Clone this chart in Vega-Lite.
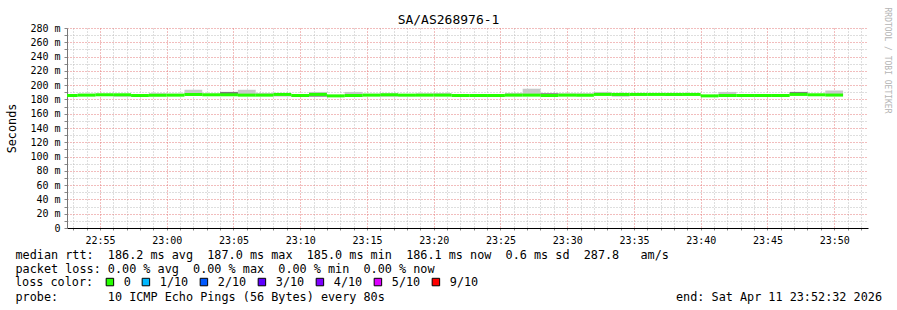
{
  "$schema": "https://vega.github.io/schema/vega-lite/v6.json",
  "width": 801,
  "height": 200,
  "autosize": {"type": "none"},
  "padding": {"left": 67, "top": 28, "right": 29, "bottom": 82},
  "background": "white",
  "title": {"text": "SA/AS268976-1", "font": "DejaVu Sans Mono", "fontSize": 13, "fontWeight": "normal", "color": "#000", "anchor": "middle", "dx": -19, "dy": 24, "offset": 4},
  "config": {"view": {"stroke": null}, "font": "DejaVu Sans Mono", "style": {"guide-title": {"lineBreak": "|"}}},
  "datasets": {
    "steps": [
      {"t": "2026-04-11T22:52:00", "t2": "2026-04-11T22:53:20", "median": 185.5, "lo": 185, "hi": 186.5, "loss": "0"},
      {"t": "2026-04-11T22:53:20", "t2": "2026-04-11T22:54:40", "median": 186, "lo": 185.5, "hi": 188, "loss": "0"},
      {"t": "2026-04-11T22:54:40", "t2": "2026-04-11T22:56:00", "median": 186.5, "lo": 185.5, "hi": 188, "loss": "0"},
      {"t": "2026-04-11T22:56:00", "t2": "2026-04-11T22:57:20", "median": 186.5, "lo": 184.5, "hi": 187, "loss": "0"},
      {"t": "2026-04-11T22:57:20", "t2": "2026-04-11T22:58:40", "median": 185.5, "lo": 185, "hi": 186.5, "loss": "0"},
      {"t": "2026-04-11T22:58:40", "t2": "2026-04-11T23:00:00", "median": 186, "lo": 185.5, "hi": 188.5, "loss": "0"},
      {"t": "2026-04-11T23:00:00", "t2": "2026-04-11T23:01:20", "median": 186, "lo": 185.5, "hi": 188, "loss": "0"},
      {"t": "2026-04-11T23:01:20", "t2": "2026-04-11T23:02:40", "median": 187, "lo": 186, "hi": 193.5, "loss": "0"},
      {"t": "2026-04-11T23:02:40", "t2": "2026-04-11T23:04:00", "median": 186.5, "lo": 185.5, "hi": 188, "loss": "0"},
      {"t": "2026-04-11T23:04:00", "t2": "2026-04-11T23:05:20", "median": 186.5, "lo": 185.5, "hi": 190.5, "loss": "0"},
      {"t": "2026-04-11T23:05:20", "t2": "2026-04-11T23:06:40", "median": 186, "lo": 185.5, "hi": 193.5, "loss": "0"},
      {"t": "2026-04-11T23:06:40", "t2": "2026-04-11T23:08:00", "median": 186, "lo": 185.5, "hi": 188, "loss": "0"},
      {"t": "2026-04-11T23:08:00", "t2": "2026-04-11T23:09:20", "median": 187, "lo": 184, "hi": 188.5, "loss": "0"},
      {"t": "2026-04-11T23:09:20", "t2": "2026-04-11T23:10:40", "median": 185.5, "lo": 184, "hi": 186.5, "loss": "0"},
      {"t": "2026-04-11T23:10:40", "t2": "2026-04-11T23:12:00", "median": 187, "lo": 184, "hi": 190.5, "loss": "0"},
      {"t": "2026-04-11T23:12:00", "t2": "2026-04-11T23:13:20", "median": 185, "lo": 184.5, "hi": 186, "loss": "0"},
      {"t": "2026-04-11T23:13:20", "t2": "2026-04-11T23:14:40", "median": 185.5, "lo": 184, "hi": 190.5, "loss": "0"},
      {"t": "2026-04-11T23:14:40", "t2": "2026-04-11T23:16:00", "median": 186, "lo": 185.5, "hi": 188, "loss": "0"},
      {"t": "2026-04-11T23:16:00", "t2": "2026-04-11T23:17:20", "median": 186.5, "lo": 184.5, "hi": 188.5, "loss": "0"},
      {"t": "2026-04-11T23:17:20", "t2": "2026-04-11T23:18:40", "median": 186, "lo": 184.5, "hi": 187.5, "loss": "0"},
      {"t": "2026-04-11T23:18:40", "t2": "2026-04-11T23:20:00", "median": 186, "lo": 185.5, "hi": 188.5, "loss": "0"},
      {"t": "2026-04-11T23:20:00", "t2": "2026-04-11T23:21:20", "median": 186, "lo": 185.5, "hi": 188, "loss": "0"},
      {"t": "2026-04-11T23:21:20", "t2": "2026-04-11T23:22:40", "median": 185.5, "lo": 185, "hi": 187.5, "loss": "0"},
      {"t": "2026-04-11T23:22:40", "t2": "2026-04-11T23:24:00", "median": 185.5, "lo": 185, "hi": 186, "loss": "0"},
      {"t": "2026-04-11T23:24:00", "t2": "2026-04-11T23:25:20", "median": 185.5, "lo": 185, "hi": 186, "loss": "0"},
      {"t": "2026-04-11T23:25:20", "t2": "2026-04-11T23:26:40", "median": 186, "lo": 184.5, "hi": 188, "loss": "0"},
      {"t": "2026-04-11T23:26:40", "t2": "2026-04-11T23:28:00", "median": 186, "lo": 185.5, "hi": 195, "loss": "0"},
      {"t": "2026-04-11T23:28:00", "t2": "2026-04-11T23:29:20", "median": 185.5, "lo": 185, "hi": 189, "loss": "0"},
      {"t": "2026-04-11T23:29:20", "t2": "2026-04-11T23:30:40", "median": 186, "lo": 185.5, "hi": 188.5, "loss": "0"},
      {"t": "2026-04-11T23:30:40", "t2": "2026-04-11T23:32:00", "median": 186, "lo": 185.5, "hi": 188.5, "loss": "0"},
      {"t": "2026-04-11T23:32:00", "t2": "2026-04-11T23:33:20", "median": 187, "lo": 186.5, "hi": 190.5, "loss": "0"},
      {"t": "2026-04-11T23:33:20", "t2": "2026-04-11T23:34:40", "median": 187, "lo": 184.5, "hi": 187.5, "loss": "0"},
      {"t": "2026-04-11T23:34:40", "t2": "2026-04-11T23:36:00", "median": 187, "lo": 185, "hi": 187.5, "loss": "0"},
      {"t": "2026-04-11T23:36:00", "t2": "2026-04-11T23:37:20", "median": 187, "lo": 186.5, "hi": 187.5, "loss": "0"},
      {"t": "2026-04-11T23:37:20", "t2": "2026-04-11T23:38:40", "median": 187, "lo": 185, "hi": 187.5, "loss": "0"},
      {"t": "2026-04-11T23:38:40", "t2": "2026-04-11T23:40:00", "median": 187, "lo": 185, "hi": 187.5, "loss": "0"},
      {"t": "2026-04-11T23:40:00", "t2": "2026-04-11T23:41:20", "median": 185, "lo": 184.5, "hi": 186, "loss": "0"},
      {"t": "2026-04-11T23:41:20", "t2": "2026-04-11T23:42:40", "median": 185.5, "lo": 185, "hi": 190.5, "loss": "0"},
      {"t": "2026-04-11T23:42:40", "t2": "2026-04-11T23:44:00", "median": 185.5, "lo": 185, "hi": 187.5, "loss": "0"},
      {"t": "2026-04-11T23:44:00", "t2": "2026-04-11T23:45:20", "median": 185.5, "lo": 185, "hi": 187.5, "loss": "0"},
      {"t": "2026-04-11T23:45:20", "t2": "2026-04-11T23:46:40", "median": 185.5, "lo": 185, "hi": 187.5, "loss": "0"},
      {"t": "2026-04-11T23:46:40", "t2": "2026-04-11T23:48:00", "median": 187, "lo": 186, "hi": 190.5, "loss": "0"},
      {"t": "2026-04-11T23:48:00", "t2": "2026-04-11T23:49:20", "median": 186.5, "lo": 186, "hi": 187.5, "loss": "0"},
      {"t": "2026-04-11T23:49:20", "t2": "2026-04-11T23:50:40", "median": 186.1, "lo": 185.5, "hi": 192.5, "loss": "0"}
    ],
    "dense": [
      {"t": "2026-04-11T22:56:00", "t2": "2026-04-11T22:57:20", "lo": 184.5, "hi": 186},
      {"t": "2026-04-11T23:04:00", "t2": "2026-04-11T23:05:20", "lo": 187.5, "hi": 190.5},
      {"t": "2026-04-11T23:06:40", "t2": "2026-04-11T23:08:00", "lo": 187, "hi": 188},
      {"t": "2026-04-11T23:10:40", "t2": "2026-04-11T23:12:00", "lo": 184, "hi": 185.5},
      {"t": "2026-04-11T23:13:20", "t2": "2026-04-11T23:14:40", "lo": 184, "hi": 185},
      {"t": "2026-04-11T23:16:00", "t2": "2026-04-11T23:17:20", "lo": 184.5, "hi": 185.5},
      {"t": "2026-04-11T23:17:20", "t2": "2026-04-11T23:18:40", "lo": 185, "hi": 186},
      {"t": "2026-04-11T23:20:00", "t2": "2026-04-11T23:21:20", "lo": 187, "hi": 188},
      {"t": "2026-04-11T23:25:20", "t2": "2026-04-11T23:26:40", "lo": 187, "hi": 188},
      {"t": "2026-04-11T23:28:00", "t2": "2026-04-11T23:29:20", "lo": 187, "hi": 188.5},
      {"t": "2026-04-11T23:33:20", "t2": "2026-04-11T23:34:40", "lo": 184.5, "hi": 185.5},
      {"t": "2026-04-11T23:37:20", "t2": "2026-04-11T23:38:40", "lo": 185, "hi": 186},
      {"t": "2026-04-11T23:46:40", "t2": "2026-04-11T23:48:00", "lo": 188, "hi": 190.5}
    ]
  },
  "layer": [
    {
      "data": {"name": "steps"},
      "mark": {"type": "rect", "color": "#c8c8c8", "clip": true},
      "encoding": {
        "x": {
          "field": "t", "type": "temporal",
          "scale": {"domain": [{"year": 2026, "month": 4, "date": 11, "hours": 22, "minutes": 52, "seconds": 32}, {"year": 2026, "month": 4, "date": 11, "hours": 23, "minutes": 52, "seconds": 32}], "nice": false},
          "axis": {
            "values": [
              {"year": 2026, "month": 4, "date": 11, "hours": 22, "minutes": 53}, {"year": 2026, "month": 4, "date": 11, "hours": 22, "minutes": 54}, {"year": 2026, "month": 4, "date": 11, "hours": 22, "minutes": 55}, {"year": 2026, "month": 4, "date": 11, "hours": 22, "minutes": 56}, {"year": 2026, "month": 4, "date": 11, "hours": 22, "minutes": 57}, {"year": 2026, "month": 4, "date": 11, "hours": 22, "minutes": 58}, {"year": 2026, "month": 4, "date": 11, "hours": 22, "minutes": 59},
              {"year": 2026, "month": 4, "date": 11, "hours": 23, "minutes": 0}, {"year": 2026, "month": 4, "date": 11, "hours": 23, "minutes": 1}, {"year": 2026, "month": 4, "date": 11, "hours": 23, "minutes": 2}, {"year": 2026, "month": 4, "date": 11, "hours": 23, "minutes": 3}, {"year": 2026, "month": 4, "date": 11, "hours": 23, "minutes": 4}, {"year": 2026, "month": 4, "date": 11, "hours": 23, "minutes": 5}, {"year": 2026, "month": 4, "date": 11, "hours": 23, "minutes": 6}, {"year": 2026, "month": 4, "date": 11, "hours": 23, "minutes": 7}, {"year": 2026, "month": 4, "date": 11, "hours": 23, "minutes": 8}, {"year": 2026, "month": 4, "date": 11, "hours": 23, "minutes": 9},
              {"year": 2026, "month": 4, "date": 11, "hours": 23, "minutes": 10}, {"year": 2026, "month": 4, "date": 11, "hours": 23, "minutes": 11}, {"year": 2026, "month": 4, "date": 11, "hours": 23, "minutes": 12}, {"year": 2026, "month": 4, "date": 11, "hours": 23, "minutes": 13}, {"year": 2026, "month": 4, "date": 11, "hours": 23, "minutes": 14}, {"year": 2026, "month": 4, "date": 11, "hours": 23, "minutes": 15}, {"year": 2026, "month": 4, "date": 11, "hours": 23, "minutes": 16}, {"year": 2026, "month": 4, "date": 11, "hours": 23, "minutes": 17}, {"year": 2026, "month": 4, "date": 11, "hours": 23, "minutes": 18}, {"year": 2026, "month": 4, "date": 11, "hours": 23, "minutes": 19},
              {"year": 2026, "month": 4, "date": 11, "hours": 23, "minutes": 20}, {"year": 2026, "month": 4, "date": 11, "hours": 23, "minutes": 21}, {"year": 2026, "month": 4, "date": 11, "hours": 23, "minutes": 22}, {"year": 2026, "month": 4, "date": 11, "hours": 23, "minutes": 23}, {"year": 2026, "month": 4, "date": 11, "hours": 23, "minutes": 24}, {"year": 2026, "month": 4, "date": 11, "hours": 23, "minutes": 25}, {"year": 2026, "month": 4, "date": 11, "hours": 23, "minutes": 26}, {"year": 2026, "month": 4, "date": 11, "hours": 23, "minutes": 27}, {"year": 2026, "month": 4, "date": 11, "hours": 23, "minutes": 28}, {"year": 2026, "month": 4, "date": 11, "hours": 23, "minutes": 29},
              {"year": 2026, "month": 4, "date": 11, "hours": 23, "minutes": 30}, {"year": 2026, "month": 4, "date": 11, "hours": 23, "minutes": 31}, {"year": 2026, "month": 4, "date": 11, "hours": 23, "minutes": 32}, {"year": 2026, "month": 4, "date": 11, "hours": 23, "minutes": 33}, {"year": 2026, "month": 4, "date": 11, "hours": 23, "minutes": 34}, {"year": 2026, "month": 4, "date": 11, "hours": 23, "minutes": 35}, {"year": 2026, "month": 4, "date": 11, "hours": 23, "minutes": 36}, {"year": 2026, "month": 4, "date": 11, "hours": 23, "minutes": 37}, {"year": 2026, "month": 4, "date": 11, "hours": 23, "minutes": 38}, {"year": 2026, "month": 4, "date": 11, "hours": 23, "minutes": 39},
              {"year": 2026, "month": 4, "date": 11, "hours": 23, "minutes": 40}, {"year": 2026, "month": 4, "date": 11, "hours": 23, "minutes": 41}, {"year": 2026, "month": 4, "date": 11, "hours": 23, "minutes": 42}, {"year": 2026, "month": 4, "date": 11, "hours": 23, "minutes": 43}, {"year": 2026, "month": 4, "date": 11, "hours": 23, "minutes": 44}, {"year": 2026, "month": 4, "date": 11, "hours": 23, "minutes": 45}, {"year": 2026, "month": 4, "date": 11, "hours": 23, "minutes": 46}, {"year": 2026, "month": 4, "date": 11, "hours": 23, "minutes": 47}, {"year": 2026, "month": 4, "date": 11, "hours": 23, "minutes": 48}, {"year": 2026, "month": 4, "date": 11, "hours": 23, "minutes": 49},
              {"year": 2026, "month": 4, "date": 11, "hours": 23, "minutes": 50}, {"year": 2026, "month": 4, "date": 11, "hours": 23, "minutes": 51}, {"year": 2026, "month": 4, "date": 11, "hours": 23, "minutes": 52}
            ],
            "tickCount": 100,
            "format": "%H:%M",
            "labelExpr": "datum.value % 300000 == 0 ? datum.label : ''",
            "labelOverlap": false, "labelFlush": false, "labelBound": false,
            "labelFont": "DejaVu Sans Mono", "labelFontSize": 10, "labelColor": "#000", "labelPadding": 5,
            "ticks": true, "tickSize": 2, "tickColor": "#888",
            "domainColor": "#000", "domainWidth": 1,
            "grid": true,
            "gridColor": {"condition": {"test": "datum.value % 300000 == 0", "value": "#e47a7a"}, "value": "#bdbdbd"},
            "gridDash": [1, 2], "gridWidth": 1,
            "title": "median\u00a0rtt:\u00a0\u00a0186.2\u00a0ms\u00a0avg\u00a0\u00a0187.0\u00a0ms\u00a0max\u00a0\u00a0185.0\u00a0ms\u00a0min\u00a0\u00a0186.1\u00a0ms\u00a0now\u00a0\u00a00.6\u00a0ms\u00a0sd\u00a0\u00a0287.8\u00a0\u00a0\u00a0am/s|packet\u00a0loss:\u00a00.00\u00a0%\u00a0avg\u00a0\u00a00.00\u00a0%\u00a0max\u00a0\u00a00.00\u00a0%\u00a0min\u00a0\u00a00.00\u00a0%\u00a0now|\u200b|probe:\u00a0\u00a0\u00a0\u00a0\u00a0\u00a0\u00a010\u00a0ICMP\u00a0Echo\u00a0Pings\u00a0(56\u00a0Bytes)\u00a0every\u00a080s\u00a0\u00a0\u00a0\u00a0\u00a0\u00a0\u00a0\u00a0\u00a0\u00a0\u00a0\u00a0\u00a0\u00a0\u00a0\u00a0\u00a0\u00a0\u00a0\u00a0\u00a0\u00a0\u00a0\u00a0\u00a0\u00a0\u00a0\u00a0\u00a0\u00a0\u00a0\u00a0\u00a0\u00a0\u00a0\u00a0\u00a0\u00a0\u00a0\u00a0\u00a0end:\u00a0Sat\u00a0Apr\u00a011\u00a023:52:32\u00a02026",
            "titleFont": "DejaVu Sans Mono", "titleFontSize": 11.8, "titleFontWeight": "normal", "titleColor": "#000",
            "titleAlign": "left", "titleAnchor": "start", "titleBaseline": "alphabetic", "titleLineHeight": 14,
            "titleX": -52, "titleY": 30,
            "encode": {"title": {"lineBreak": {"value": "|"}}}
          }
        },
        "x2": {"field": "t2"},
        "y": {
          "field": "lo", "type": "quantitative",
          "scale": {"domain": [0, 280], "nice": false, "padding": 0},
          "axis": {
            "values": [0, 10, 20, 30, 40, 50, 60, 70, 80, 90, 100, 110, 120, 130, 140, 150, 160, 170, 180, 190, 200, 210, 220, 230, 240, 250, 260, 270, 280],
            "labelExpr": "datum.value % 20 == 0 ? (datum.value == 0 ? '0' : datum.value + ' m') : ''",
            "labelOverlap": false, "labelBound": false, "labelFlush": false,
            "labelFont": "DejaVu Sans Mono", "labelFontSize": 10, "labelColor": "#000", "labelPadding": 4,
            "tickSize": 3, "tickColor": "#888", "domainColor": "#777",
            "grid": true,
            "gridColor": {"condition": {"test": "datum.value % 20 == 0", "value": "#e47a7a"}, "value": "#bdbdbd"},
            "gridDash": [1, 2], "gridWidth": 1,
            "title": "Seconds", "titleFont": "DejaVu Sans Mono", "titleFontSize": 11.8, "titleFontWeight": "normal", "titleColor": "#000",
            "titleAngle": -90, "titleAlign": "center", "titleBaseline": "middle", "titleX": -56, "titleY": 100
          }
        },
        "y2": {"field": "hi"}
      }
    },
    {
      "data": {"name": "dense"},
      "mark": {"type": "rect", "color": "#7a7a7a", "clip": true},
      "encoding": {
        "x": {"field": "t", "type": "temporal"},
        "x2": {"field": "t2"},
        "y": {"field": "lo", "type": "quantitative", "axis": null},
        "y2": {"field": "hi"}
      }
    },
    {
      "data": {"name": "steps"},
      "mark": {"type": "bar", "orient": "horizontal", "size": 3, "clip": true},
      "encoding": {
        "x": {"field": "t", "type": "temporal"},
        "x2": {"field": "t2"},
        "y": {
          "field": "median", "type": "quantitative",
          "axis": {
            "orient": "right", "labels": false, "ticks": false, "domain": false, "grid": false,
            "title": "RRDTOOL / TOBI OETIKER", "titleAngle": 90, "titleColor": "#b4b4b4", "titleFontSize": 8,
            "titleFont": "DejaVu Sans Mono", "titleFontWeight": "normal",
            "titleX": 18, "titleY": 32, "titleAlign": "center", "titleBaseline": "middle"
          }
        },
        "color": {
          "field": "loss", "type": "nominal",
          "scale": {"domain": ["0", "1/10", "2/10", "3/10", "4/10", "5/10", "9/10"], "range": ["#26ff00", "#00b8ff", "#0059ff", "#5e00ff", "#7e00ff", "#dd00ff", "#ff0000"]},
          "legend": {
            "orient": "none", "legendX": -52, "legendY": 248, "direction": "horizontal",
            "title": "loss color:", "titleOrient": "left", "titleFont": "DejaVu Sans Mono", "titleFontSize": 11.8,
            "titleFontWeight": "normal", "titleColor": "#000", "titlePadding": 10,
            "labelFont": "DejaVu Sans Mono", "labelFontSize": 11.8, "labelColor": "#000", "labelOffset": 8,
            "columnPadding": 9, "symbolType": "square", "symbolSize": 56, "padding": 0,
            "symbolStrokeColor": "#000", "symbolStrokeWidth": 1
          }
        }
      }
    }
  ],
  "resolve": {"axis": {"y": "independent"}}
}
